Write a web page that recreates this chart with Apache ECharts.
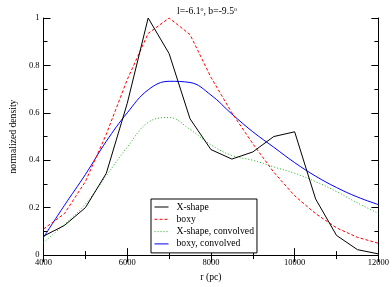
<!DOCTYPE html>
<html>
<head>
<meta charset="utf-8">
<script src="https://cdn.jsdelivr.net/npm/echarts@6/dist/echarts.min.js"></script>
<style>html,body{margin:0;padding:0;background:#fff;}#c{width:392px;height:287px;}</style>
</head>
<body>
<div id="c"></div>
<script>
var radii = [4000, 4500, 5000, 5500, 6000, 6500, 7000, 7500, 8000, 8500, 9000, 9500, 10000, 10500, 11000, 11500, 12000];
var xShape = [0.08, 0.125, 0.2, 0.345, 0.64, 1.0, 0.85, 0.575, 0.445, 0.405, 0.435, 0.5, 0.52, 0.237, 0.083, 0.023, 0.005];
var boxy = [0.11, 0.175, 0.31, 0.51, 0.74, 0.935, 1.0, 0.93, 0.75, 0.6, 0.47, 0.35, 0.25, 0.175, 0.115, 0.075, 0.05];
var xShapeConv = [0.053, 0.13, 0.215, 0.335, 0.455, 0.56, 0.58, 0.53, 0.465, 0.42, 0.4, 0.372, 0.345, 0.31, 0.268, 0.22, 0.176];
var boxyConv = [0.075, 0.21, 0.34, 0.48, 0.6, 0.697, 0.733, 0.728, 0.675, 0.595, 0.52, 0.455, 0.39, 0.333, 0.285, 0.245, 0.213];
var seriesNames = ['X-shape', 'boxy', 'X-shape, convolved', 'boxy, convolved'];
var xTicks = [4000, 6000, 8000, 10000, 12000];
var yTicks = [0, 0.2, 0.4, 0.6, 0.8, 1];

function pairs(ys) { return radii.map(function (r, i) { return [r, ys[i]]; }); }

var FONT = 'Liberation Serif';
var chart = echarts.init(document.getElementById('c'), null, {renderer: 'canvas'});

function axisCommon(extra) {
  var base = {
    axisLine: {show: true, lineStyle: {color: '#000', width: 1}},
    axisTick: {show: true, inside: true, length: 7, lineStyle: {color: '#000'}},
    minorTick: {show: true, splitNumber: 2, length: 4, lineStyle: {color: '#000'}},
    splitLine: {show: false},
    minorSplitLine: {show: false}
  };
  for (var k in extra) base[k] = extra[k];
  return base;
}

chart.setOption({
  animation: false,
  backgroundColor: '#fff',
  title: {
    text: 'l=-6.1{s|o}, b=-9.5{s|o}',
    left: 172, top: 1,
    textStyle: {
      fontFamily: FONT, fontSize: 9.7, fontWeight: 'normal', color: '#000',
      rich: {s: {fontFamily: FONT, fontSize: 6, color: '#000', padding: [0, 0, 5, 0]}}
    }
  },
  grid: {left: 29, right: 13, top: 18, bottom: 24},
  xAxis: [
    axisCommon({
      type: 'value', min: xTicks[0], max: xTicks[xTicks.length - 1], interval: 2000,
      position: 'bottom',
      name: 'r (pc)', nameLocation: 'middle', nameGap: 12,
      nameTextStyle: {fontFamily: FONT, fontSize: 9.7, color: '#000'},
      axisLabel: {margin: 3, fontFamily: FONT, fontSize: 8.5, color: '#000',
                  formatter: function (v) { return String(v); }}
    }),
    axisCommon({
      type: 'value', min: xTicks[0], max: xTicks[xTicks.length - 1], interval: 2000,
      position: 'top', axisLabel: {show: false}
    })
  ],
  yAxis: [
    axisCommon({
      type: 'value', min: yTicks[0], max: yTicks[yTicks.length - 1], interval: 0.2,
      position: 'left',
      name: 'normalized density', nameLocation: 'middle', nameGap: 23, nameRotate: 90,
      nameTextStyle: {fontFamily: FONT, fontSize: 9.7, color: '#000'},
      axisLabel: {margin: 4, fontFamily: FONT, fontSize: 8.5, color: '#000',
                  formatter: function (v) { return String(Math.round(v * 10) / 10); }}
    }),
    axisCommon({
      type: 'value', min: yTicks[0], max: yTicks[yTicks.length - 1], interval: 0.2,
      position: 'right', axisLabel: {show: false}
    })
  ],
  legend: {
    orient: 'vertical',
    left: 151, top: 199,
    data: seriesNames,
    backgroundColor: '#fff',
    borderColor: '#000', borderWidth: 1, borderRadius: 0,
    padding: [3, 3, 4, 3],
    itemWidth: 14, itemHeight: 10, itemGap: 2.3,
    itemStyle: {opacity: 0},
    lineStyle: {width: 1},
    textStyle: {fontFamily: FONT, fontSize: 9.7, color: '#000', lineHeight: 10, padding: [0, 0, 0, 3]}
  },
  series: [
    {name: seriesNames[0], type: 'line', data: pairs(xShape), symbol: 'none', showSymbol: false,
     lineStyle: {color: '#000', width: 1}, itemStyle: {color: '#000'}, z: 5},
    {name: seriesNames[1], type: 'line', data: pairs(boxy), symbol: 'none', showSymbol: false,
     lineStyle: {color: '#ff0000', width: 1, type: [3, 2]}, itemStyle: {color: '#ff0000'}, z: 4},
    {name: seriesNames[2], type: 'line', data: pairs(xShapeConv), symbol: 'none', showSymbol: false, smooth: 0.4,
     lineStyle: {color: '#22b022', width: 1, type: [1, 2]}, itemStyle: {color: '#22b022'}, z: 3},
    {name: seriesNames[3], type: 'line', data: pairs(boxyConv), symbol: 'none', showSymbol: false, smooth: 0.4,
     lineStyle: {color: '#0000ff', width: 1}, itemStyle: {color: '#0000ff'}, z: 3}
  ]
});
</script>
</body>
</html>
